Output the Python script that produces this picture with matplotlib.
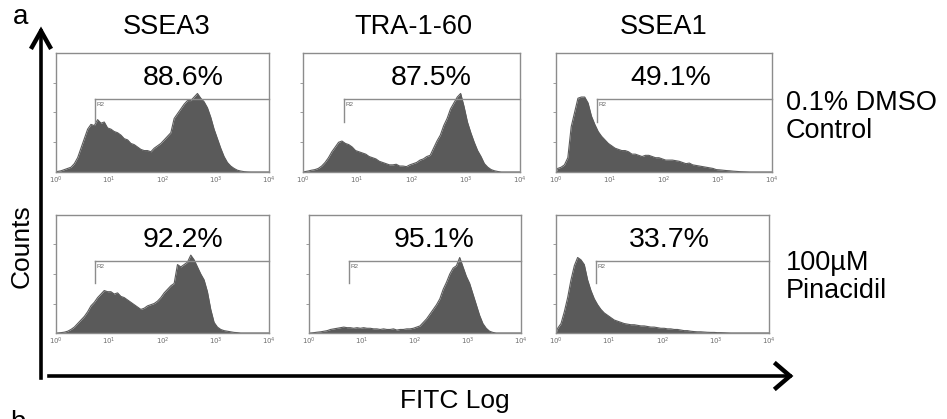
import numpy as np
import matplotlib
matplotlib.use("Agg")
import matplotlib.pyplot as plt
from matplotlib.lines import Line2D

plt.rcParams['font.family'] = ['Liberation Sans', 'DejaVu Sans']

W, H = 947, 419

markers = ["SSEA3", "TRA-1-60", "SSEA1"]
conditions = ["0.1% DMSO\nControl", "100\u00b5M\nPinacidil"]
percent_top = ["88.6%", "87.5%", "49.1%"]
percent_bottom = ["92.2%", "95.1%", "33.7%"]
tick_labels = [r"$10^{0}$", r"$10^{1}$", r"$10^{2}$", r"$10^{3}$", r"$10^{4}$"]

# histogram heights (percent of panel height), 64 log-spaced channels over 4 decades
ssea3_dmso = [0.5, 1, 2, 3, 4, 7, 12, 20,
              28, 36, 40, 39, 44, 41, 42, 37,
              36, 34, 33, 31, 28, 27, 24, 23,
              21, 19, 18, 18, 17, 20, 22, 24,
              27, 30, 33, 45, 49, 53, 57, 60,
              60, 63, 66, 62, 59, 54, 46, 36,
              28, 20, 13, 8, 5, 3, 1.5, 0.8,
              0.3, 0.1, 0, 0, 0, 0, 0, 0]
tra_dmso = [0.3, 0.8, 1.5, 2, 3, 5, 8, 12,
            17, 21, 25, 26, 24, 23, 21, 18,
            17, 16, 15, 13, 12, 11, 9, 8,
            7, 6, 6, 6.5, 5, 5, 4.5, 6,
            7, 8, 10, 11, 13, 14, 20, 26,
            31, 39, 45, 53, 58, 63, 66, 55,
            42, 33, 25, 18, 13, 7, 4, 2,
            1, 0.4, 0, 0, 0, 0, 0, 0]
ssea1_dmso = [3, 4, 6, 12, 38, 50, 62, 63,
              63, 58, 47, 40, 34, 30, 27, 24,
              22, 20, 19, 18, 18, 17, 15, 15,
              14, 13, 14, 14, 13, 12, 12, 11,
              10, 10, 10, 9.5, 9, 8, 7, 7.5,
              6, 5.5, 5, 4.5, 4, 3.5, 3, 2,
              1.8, 1.5, 1.2, 1, 0.7, 0.5, 0.3, 0.2,
              0.1, 0, 0, 0, 0, 0, 0, 0]
ssea3_pin = [0, 0.3, 0.7, 1.5, 3, 5, 8, 11,
             14, 18, 23, 26, 30, 33, 36, 35,
             35, 33, 34, 31, 30, 28, 26, 24,
             22, 20, 21, 23, 24, 25, 27, 30,
             34, 37, 40, 42, 58, 56, 58, 60,
             66, 62, 56, 50, 45, 35, 20, 9,
             5, 3, 2, 1.5, 1, 0.5, 0.3, 0,
             0, 0, 0, 0, 0, 0, 0, 0]
tra_pin = [0, 0.3, 0.7, 1, 1.5, 2, 3, 3.5,
           4, 4.5, 5, 4.5, 4.5, 4, 4.5, 4,
           4.5, 4, 4, 3.5, 3.5, 3, 3.5, 3,
           3, 3.5, 2.5, 3, 3, 3.5, 3.5, 4,
           5, 6, 9, 12, 16, 20, 24, 29,
           37, 43, 50, 55, 57, 64, 56, 48,
           42, 33, 24, 15, 8, 4, 1.5, 0.5,
           0, 0, 0, 0, 0, 0, 0, 0]
ssea1_pin = [4, 8, 18, 30, 45, 57, 64, 62,
             58, 45, 36, 29, 24, 20, 17, 15,
             13, 11, 10, 9, 8, 7.5, 7, 7,
             6.5, 6, 6, 5.5, 5, 5, 4.5, 4,
             4, 3.5, 3.5, 3, 3, 2.5, 2, 2,
             1.5, 1.2, 1, 1, 0.8, 0.6, 0.5, 0.5,
             0.3, 0.3, 0.2, 0.1, 0, 0, 0, 0,
             0, 0, 0, 0, 0, 0, 0, 0]

gate_start = [5.4, 5.6, 5.7]   # R2 gate lower limit (FITC units)
gate_level = 61                # gate marker height (percent)

fig = plt.figure(figsize=(W / 100, H / 100), dpi=100)

def fx(px):
    return px / W

def fy(py):
    return 1 - py / H

# panel boxes in pixels: (left, right, top, bottom)
boxes = [[(56, 269, 53, 172), (303, 520, 53, 172), (556, 772, 53, 172)],
         [(56, 269, 215, 333), (309, 521, 215, 333), (556, 769, 215, 333)]]
data = [[ssea3_dmso, tra_dmso, ssea1_dmso], [ssea3_pin, tra_pin, ssea1_pin]]
percents = [percent_top, percent_bottom]
pct_x = [0.596, 0.59, 0.53]

box_col = '#8c8c8c'
fill_col = '#5a5a5a'

for r in range(2):
    for c in range(3):
        l, rr, t, b = boxes[r][c]
        ax = fig.add_axes([fx(l), fy(b), (rr - l) / W, (b - t) / H])
        vals = np.array(data[r][c], dtype=float)
        n = len(vals)
        centers = 10 ** ((np.arange(n) + 0.5) * 4.0 / n)
        xs = np.concatenate([[1.0], centers, [1e4]])
        ys = np.concatenate([[0.0], vals, [0.0]])
        ax.fill_between(xs, 0, ys, color=fill_col, lw=0)
        ax.plot(xs, ys, color=fill_col, lw=0.8)
        ax.set_xscale('log')
        ax.set_xlim(1, 1e4)
        ax.set_ylim(0, 100)
        for s in ax.spines.values():
            s.set_color(box_col)
            s.set_linewidth(1.0)
        ax.set_xticks([1, 10, 100, 1000, 10000])
        ax.set_xticklabels(tick_labels, fontsize=5, color='#707070')
        ax.xaxis.set_minor_locator(matplotlib.ticker.NullLocator())
        ax.tick_params(axis='x', length=0, pad=2)
        ax.set_yticks([25, 50, 75])
        ax.set_yticklabels([])
        ax.tick_params(axis='y', length=2.5, width=0.6, color=box_col, direction='out')
        # R2 gate marker
        g0 = gate_start[c]
        ax.plot([g0, 1e4], [gate_level, gate_level], color=box_col, lw=1.0, clip_on=False)
        ax.plot([g0, g0], [gate_level, gate_level - 19], color=box_col, lw=1.0)
        ax.text(g0 * 1.07, gate_level - 2.5, "R2", fontsize=4.5, color='#666666',
                va='top', ha='left')
        ax.text(pct_x[c], 0.79, percents[r][c], transform=ax.transAxes,
                fontsize=20.5, ha='center', va='center', color='black')

# column titles
for name, x in zip(markers, [167, 413, 664]):
    fig.text(fx(x), fy(27), name, fontsize=19.5, ha='center', va='center')

# row labels
fig.text(fx(786), fy(117), conditions[0], fontsize=19.5, ha='left', va='center',
         linespacing=1.12)
fig.text(fx(786), fy(277), conditions[1], fontsize=19.5, ha='left', va='center',
         linespacing=1.12)

# axis arrows
lw = 2.6
fig.add_artist(Line2D([fx(41), fx(41)], [fy(378), fy(31)], color='black', lw=lw))
fig.add_artist(Line2D([fx(32), fx(41), fx(50)], [fy(47), fy(31), fy(47)], color='black',
                      lw=lw + 0.6, solid_joinstyle='miter'))
fig.add_artist(Line2D([fx(49), fx(790)], [fy(376), fy(376)], color='black', lw=lw))
fig.add_artist(Line2D([fx(776), fx(790), fx(776)], [fy(364), fy(376), fy(388)], color='black',
                      lw=lw + 0.6, solid_joinstyle='miter'))

fig.text(fx(455), fy(401), "FITC Log", fontsize=19, ha='center', va='center')
fig.text(fx(22), fy(246), "Counts", fontsize=19, ha='center', va='center', rotation=90)
fig.text(fx(21), fy(17), "a", fontsize=20, ha='center', va='center')
fig.text(fx(18), fy(430), "b", fontsize=20, ha='center', va='baseline')

fig.savefig("out.png", dpi=100)
